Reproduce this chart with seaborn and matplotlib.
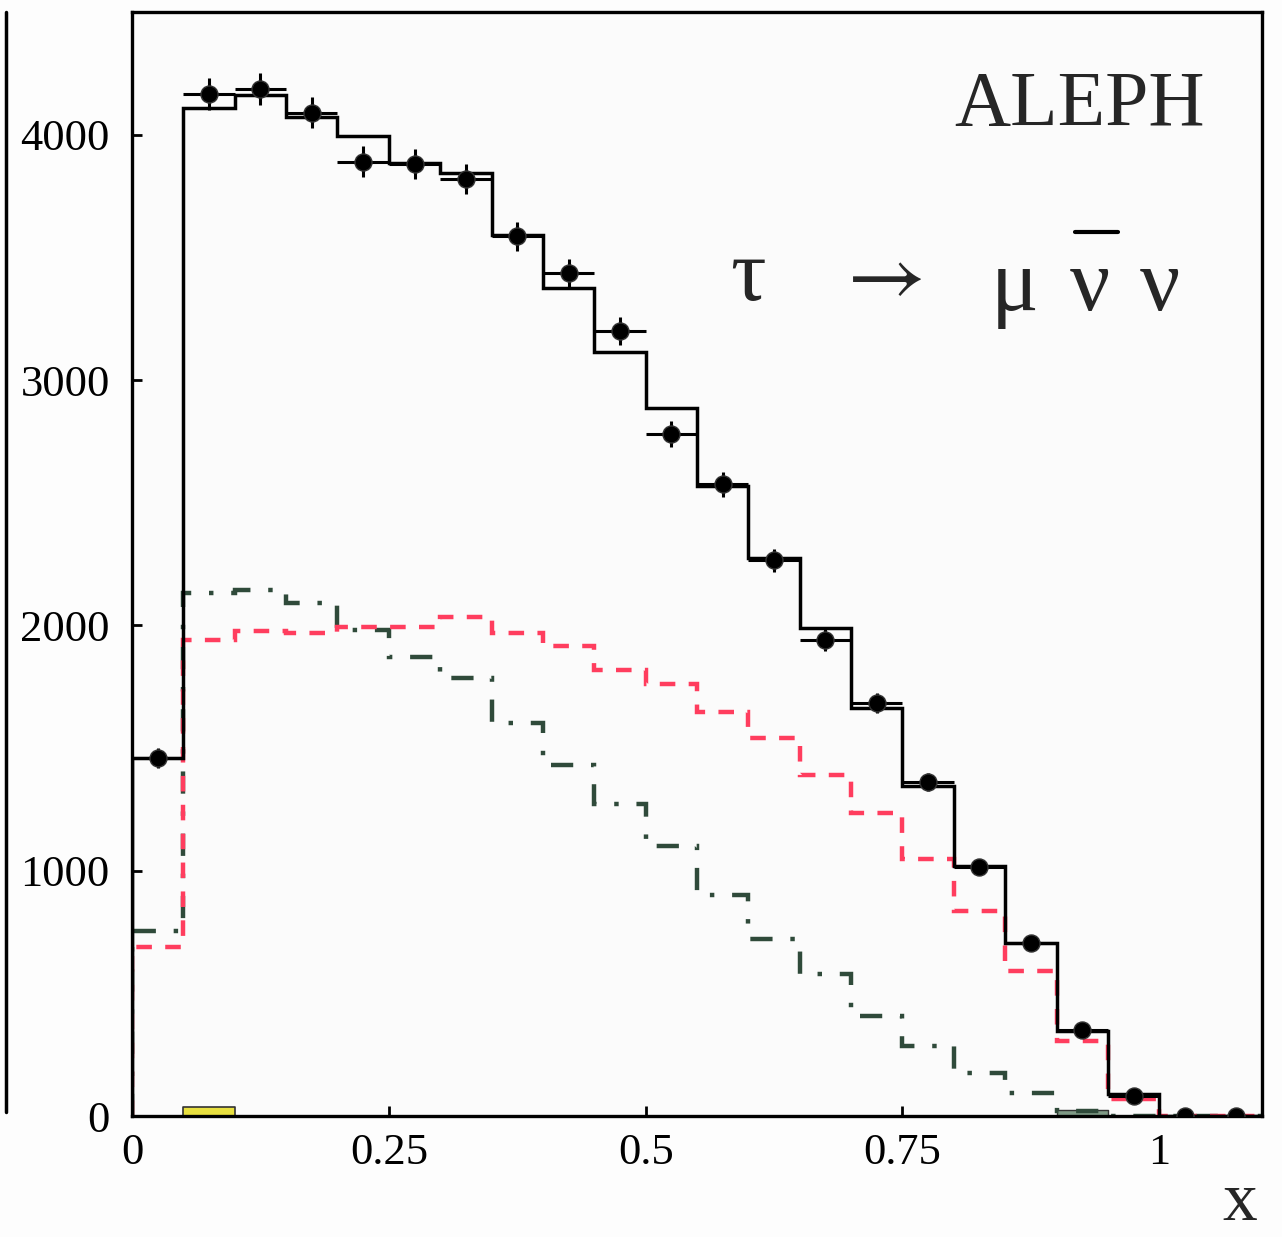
import numpy as np
import pandas as pd
import matplotlib
matplotlib.use("Agg")
import matplotlib.pyplot as plt
import seaborn as sns
from matplotlib.lines import Line2D

# binning of the x spectrum (0.05 wide bins)
bin_edges = [0.0, 0.05, 0.10, 0.15, 0.20, 0.25, 0.30, 0.35, 0.40, 0.45, 0.50,
             0.55, 0.60, 0.65, 0.70, 0.75, 0.80, 0.85, 0.90, 0.95, 1.00, 1.05, 1.10]
bin_centers = [0.025, 0.075, 0.125, 0.175, 0.225, 0.275, 0.325, 0.375, 0.425, 0.475, 0.525,
               0.575, 0.625, 0.675, 0.725, 0.775, 0.825, 0.875, 0.925, 0.975, 1.025, 1.075]

# measured data and its errors
data_counts = [1460, 4165, 4185, 4090, 3890, 3880, 3820, 3585, 3435, 3200, 2780,
               2575, 2265, 1940, 1685, 1360, 1015, 706, 350, 82, 0, 0]
data_err = [40, 65, 65, 64, 62, 62, 62, 60, 59, 57, 53,
            51, 48, 44, 41, 37, 32, 27, 19, 9, 0, 0]

# Monte Carlo: total and the two components
mc_total = [1460, 4108, 4160, 4070, 3996, 3886, 3845, 3592, 3376, 3114, 2884,
            2567, 2273, 1988, 1665, 1347, 1020, 706, 347, 90, 0, 0]
mc_red = [690, 1939, 1976, 1967, 1992, 1992, 2033, 1967, 1914, 1816, 1759,
          1645, 1539, 1388, 1237, 1049, 837, 592, 306, 69, 0, 0]
mc_green = [755, 2131, 2143, 2090, 1980, 1869, 1786, 1600, 1429, 1273, 1102,
            900, 722, 580, 408, 286, 176, 92, 20, 0, 0, 0]

# small backgrounds near zero
bkg_yellow = [0, 35, 0, 0, 0, 0, 0, 0, 0, 0, 0, 0, 0, 0, 0, 0, 0, 0, 0, 0, 0, 0]
bkg_green = [0, 0, 0, 0, 0, 0, 0, 0, 0, 0, 0, 0, 0, 0, 0, 0, 0, 0, 25, 0, 0, 0]

df = pd.DataFrame({"x": bin_centers, "data": data_counts, "err": data_err,
                   "total": mc_total, "red": mc_red, "green": mc_green,
                   "yellow": bkg_yellow, "bgreen": bkg_green})

sns.set_theme(style="ticks")
plt.rcParams["font.family"] = ["Liberation Serif", "DejaVu Serif"]
plt.rcParams["mathtext.fontset"] = "stix"

W, H = 1282, 1237
fig = plt.figure(figsize=(W / 100, H / 100), dpi=100, facecolor="#fdfdfd")
ax = fig.add_axes([132 / W, 121 / H, (1262 - 132) / W, (1237 - 121 - 12) / H])
ax.set_facecolor("#fbfbfb")

# filled backgrounds
sns.histplot(data=df, x="x", weights="yellow", bins=bin_edges, element="step",
             fill=True, color="#e8e040", alpha=1, edgecolor="#333333", linewidth=1.2, ax=ax)
sns.histplot(data=df, x="x", weights="bgreen", bins=bin_edges, element="step",
             fill=True, color="#7f9a86", alpha=1, edgecolor="#333333", linewidth=1.0, ax=ax)

# MC histograms drawn with stairs so the outline rises from zero at x=0
ax.stairs(df["green"], bin_edges, baseline=0, color="#2f4a3a", linewidth=3.2,
          linestyle=(0, (5, 4, 1, 4)))
ax.stairs(df["red"], bin_edges, baseline=0, color="#ff3d5e", linewidth=3.2,
          linestyle=(0, (3.5, 3)))
ax.stairs(df["total"], bin_edges, baseline=0, color="black", linewidth=2.5)

# data points with error bars
ax.errorbar(df["x"], df["data"], yerr=df["err"], xerr=0.025, fmt="none",
            ecolor="black", elinewidth=2.2, capsize=0)
sns.scatterplot(data=df, x="x", y="data", color="black", s=150, marker="o",
                edgecolor="#333333", linewidth=1, ax=ax, zorder=5)

ax.set_xlim(0, 1.1)
ax.set_ylim(0, 4500)
ax.set_xticks([0, 0.25, 0.5, 0.75, 1.0])
ax.set_xticklabels(["0", "0.25", "0.5", "0.75", "1"])
ax.set_yticks([0, 1000, 2000, 3000, 4000])
ax.set_yticklabels(["0", "1000", "2000", "3000", "4000"])
ax.tick_params(direction="in", length=7, width=2, labelsize=32, colors="black")
ax.tick_params(axis="y", pad=16)
ax.tick_params(axis="x", pad=12)
ax.set_xlabel("")
ax.set_ylabel("")
for sp in ax.spines.values():
    sp.set_visible(True)
    sp.set_linewidth(2.4)
    sp.set_color("black")

# labels
fig.text(1205 / W, 1 - 125 / H, "ALEPH", ha="right", va="baseline", fontsize=56)
fig.text(748 / W, 1 - 300 / H, "τ", ha="center", va="baseline", fontsize=64)
fig.text(878 / W, 1 - 300 / H, r"$\rightarrow$", ha="center", va="baseline", fontsize=62)
fig.text(1015 / W, 1 - 310 / H, "μ", ha="center", va="baseline", fontsize=64)
fig.text(1090 / W, 1 - 310 / H, "ν", ha="center", va="baseline", fontsize=64)
fig.text(1160 / W, 1 - 310 / H, "ν", ha="center", va="baseline", fontsize=64)
# bar over the anti-neutrino
fig.add_artist(Line2D([1075 / W, 1118 / W], [1 - 232 / H, 1 - 232 / H], color="black", linewidth=3))
fig.text(1240 / W, 1 - 1220 / H, "x", ha="center", va="baseline", fontsize=50)

# edge of the neighbouring panel on the left
fig.add_artist(Line2D([6 / W, 6 / W], [1 - 12 / H, 1 - 1112 / H], color="black", linewidth=2.5))

fig.savefig("out.png", dpi=100, facecolor=fig.get_facecolor())
